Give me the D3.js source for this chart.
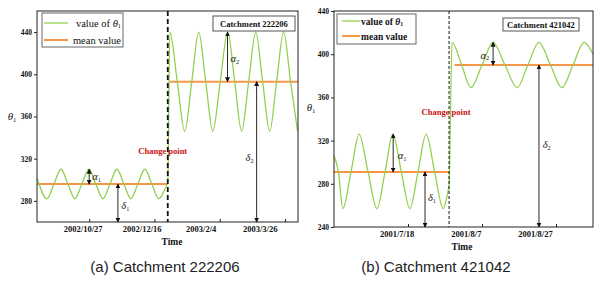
<!DOCTYPE html>
<html>
<head>
<meta charset="utf-8">
<script src="https://cdn.jsdelivr.net/npm/d3@7"></script>
<style>
body { margin: 0; background: #fff; }
svg { display: block; }
</style>
</head>
<body>
<script>
var W = 600, H = 283;

// (a) Catchment 222206  -- x values are days after aStart
var aStart = "2002-09-17", aEnd = "2003-04-05";
var aDays = [0, 7.7, 13, 18.4, 23.7, 29.1, 34.4, 39.8, 45.1, 50.5, 55.9, 61.2, 66.6, 71.9, 77.3, 82.6, 88, 93.3, 97.9, 100.2,
             101.8, 107.5, 113.2, 118.6, 123.9, 129.3, 134.7, 140.4, 146.1, 151.5, 156.8, 162.2, 167.6, 172.9, 178.3, 183.6, 189, 194.3, 199.7];
var aVals = [302, 282, 296, 310, 296, 282, 296, 310, 296, 282, 296, 310, 296, 282, 296, 310, 296, 282, 291, 298,
             440, 393, 346, 393, 440, 393, 346, 393, 440, 393, 346, 393, 440, 393, 346, 393, 440, 393, 346];
var aMeanFrom = [0, 101.8], aMeanTo = [100.2, 200], aMeanVal = [296, 393];
var aChange = 100.2;
var aTicks = ["2002-10-27", "2002-12-16", "2003-02-04", "2003-03-26"];
var aTickLabels = ["2002/10/27", "2002/12/16", "2003/2/4", "2003/3/26"];
var aYDomain = [260, 460], aYTicks = [280, 320, 360, 400, 440];
// arrows: day, from, to ; labels: day, value
var aArrowDay = [40, 62, 146, 168.3], aArrowFrom = [310, 296, 440, 393], aArrowTo = [296, 260, 393, 260];
var aLabelDay = [42.3, 64.6, 148.2, 159.8], aLabelVal = [300, 272, 412, 318];
var aLabelSym = ["α", "δ", "α", "δ"], aLabelSub = ["1", "1", "2", "2"];

// (b) Catchment 421042
var bStart = "2001-06-28", bEnd = "2001-09-06";
var bDays = [0, 1.2, 2.4, 4.6, 6.8, 9.2, 11.6, 13.8, 15.9, 18.2, 20.5, 22.7, 24.9, 27.2, 29.5, 30.5, 31.1,
             31.9, 34.5, 37.0, 40.0, 43.0, 46.2, 49.5, 52.4, 55.4, 58.5, 61.6, 64.6, 67.6, 70];
var bVals = [306, 291, 257, 291, 326, 291, 257, 291, 326, 291, 257, 291, 326, 291, 257, 268, 280,
             411, 390, 369, 390, 411, 390, 369, 390, 411, 390, 369, 390, 411, 400];
var bMeanFrom = [0, 32.6], bMeanTo = [31.1, 70], bMeanVal = [291, 390];
var bChange = 31.1;
var bTicks = ["2001-07-18", "2001-08-07", "2001-08-27"];
var bTickLabels = ["2001/7/18", "2001/8/7", "2001/8/27"];
var bYDomain = [240, 440], bYTicks = [240, 280, 320, 360, 400, 440];
var bArrowDay = [16, 24.6, 43, 55.4], bArrowFrom = [326, 291, 411, 390], bArrowTo = [291, 240, 390, 240];
var bLabelDay = [17.2, 25.4, 39.6, 56.4], bLabelVal = [303, 264, 396, 313];
var bLabelSym = ["α", "δ", "α", "δ"], bLabelSub = ["1", "1", "2", "2"];

var GREEN = "#92d050", ORANGE = "#f79646", RED = "#cc1010";
var SERIF = "'Liberation Serif', 'Times New Roman', serif";
var SANS = "'Liberation Sans', Arial, sans-serif";

var parse = d3.timeParse("%Y-%m-%d");
function dayDate(start, d) { return new Date(parse(start).getTime() + d * 864e5); }

var svg = d3.select("body").append("svg").attr("width", W).attr("height", H);

var defs = svg.append("defs");
defs.append("marker").attr("id", "head")
    .attr("viewBox", "0 0 8 8").attr("refX", 7).attr("refY", 4)
    .attr("markerWidth", 5).attr("markerHeight", 5).attr("orient", "auto-start-reverse")
    .attr("markerUnits", "userSpaceOnUse")
  .append("path").attr("d", "M0,0L8,4L0,8z").attr("fill", "#111");

function subText(sel, main, sub, italicMain) {
  sel.append("tspan").text(main).attr("font-style", italicMain ? "italic" : null);
  sel.append("tspan").text(sub).attr("font-size", "0.6em").attr("dy", "0.3em");
}

function drawPanel(p) {
  var g = svg.append("g");
  var x = d3.scaleTime().domain([parse(p.start), parse(p.end)]).range([p.left, p.right]);
  var xl = d3.scaleTime().domain([parse(p.start), parse(p.end)]).range(p.labelRange);
  var y = d3.scaleLinear().domain(p.yDomain).range([p.bottom, p.top]);

  // y axis
  var ya = g.append("g").attr("transform", "translate(" + p.left + ",0)")
    .call(d3.axisLeft(y).tickValues(p.yTicks).tickSize(3).tickPadding(2));
  ya.select(".domain").remove();
  ya.selectAll("line").attr("stroke", "#222");
  ya.selectAll("text").attr("font-family", SERIF).attr("font-weight", "bold")
    .attr("font-size", p.yFont).attr("fill", "#111");

  // x axis: inward ticks, labels placed by label scale
  var tickDates = p.ticks.map(parse);
  var xa = g.append("g").attr("transform", "translate(0," + p.bottom + ")")
    .call(d3.axisBottom(x).tickValues(tickDates).tickSize(-3).tickFormat(""));
  xa.select(".domain").remove();
  xa.selectAll("line").attr("stroke", "#222");
  g.selectAll(".xlab").data(tickDates).enter().append("text")
    .attr("x", function(d) { return xl(d); })
    .attr("y", p.bottom + 10)
    .attr("text-anchor", "middle")
    .attr("font-family", SERIF).attr("font-weight", "bold").attr("font-size", 8.5).attr("fill", "#111")
    .text(function(d, i) { return p.tickLabels[i]; });

  // mean lines
  var means = p.meanVal.map(function(v, i) { return {a: p.meanFrom[i], b: p.meanTo[i], v: v}; });
  g.selectAll(".mean").data(means).enter().append("line")
    .attr("x1", function(d) { return x(dayDate(p.start, d.a)); })
    .attr("x2", function(d) { return x(dayDate(p.start, d.b)); })
    .attr("y1", function(d) { return y(d.v); })
    .attr("y2", function(d) { return y(d.v); })
    .attr("stroke", ORANGE).attr("stroke-width", 2);

  // theta curve
  var pts = p.days.map(function(d, i) { return [dayDate(p.start, d), p.vals[i]]; });
  var line = d3.line().x(function(d) { return x(d[0]); }).y(function(d) { return y(d[1]); })
    .curve(d3.curveMonotoneX);
  g.append("path").attr("d", line(pts)).attr("fill", "none")
    .attr("stroke", GREEN).attr("stroke-width", 1.3);

  // change point
  var cx = x(dayDate(p.start, p.change));
  g.append("line").attr("x1", cx).attr("x2", cx).attr("y1", p.top).attr("y2", p.bottom)
    .attr("stroke", "#111").attr("stroke-width", p.dashW).attr("stroke-dasharray", p.dash);
  g.append("text").attr("x", cx + p.cpDx).attr("y", y(p.cpVal))
    .attr("text-anchor", "middle").attr("font-family", SERIF).attr("font-weight", "bold")
    .attr("font-size", 8.5).attr("fill", RED).text("Change point");

  // arrows
  p.arrowDay.forEach(function(d, i) {
    var ax = x(dayDate(p.start, d));
    g.append("line").attr("x1", ax).attr("x2", ax)
      .attr("y1", y(p.arrowFrom[i])).attr("y2", y(p.arrowTo[i]))
      .attr("stroke", "#111").attr("stroke-width", 0.9)
      .attr("marker-start", "url(#head)").attr("marker-end", "url(#head)");
    var t = g.append("text").attr("x", x(dayDate(p.start, p.labelDay[i]))).attr("y", y(p.labelVal[i]))
      .attr("font-family", SERIF).attr("font-size", 10.5).attr("fill", "#222");
    subText(t, p.labelSym[i], p.labelSub[i], true);
  });

  // frame
  g.append("rect").attr("x", p.left).attr("y", p.top)
    .attr("width", p.right - p.left).attr("height", p.bottom - p.top)
    .attr("fill", "none").attr("stroke", "#222").attr("stroke-width", 1);

  // legend
  var L = p.legend;
  g.append("rect").attr("x", L.x).attr("y", L.y).attr("width", L.w).attr("height", L.h)
    .attr("fill", "#fff").attr("stroke", "#666").attr("stroke-width", 1);
  [[GREEN, 1.3], [ORANGE, 2]].forEach(function(s, i) {
    var ly = L.y + L.rows[i];
    g.append("line").attr("x1", L.x + L.lx0).attr("x2", L.x + L.lx1).attr("y1", ly).attr("y2", ly)
      .attr("stroke", s[0]).attr("stroke-width", s[1]);
    var t = g.append("text").attr("x", L.x + L.tx).attr("y", ly + 3.5)
      .attr("text-anchor", L.anchor).attr("font-family", SERIF).attr("font-size", L.font)
      .attr("font-weight", L.bold ? "bold" : null).attr("fill", "#111");
    if (i === 0) {
      t.append("tspan").text("value of ");
      subText(t, "θ", "1", true);
    } else {
      t.text("mean value");
    }
  });

  // catchment box
  var C = p.cbox;
  g.append("rect").attr("x", C.x).attr("y", C.y).attr("width", C.w).attr("height", C.h)
    .attr("fill", "#fff").attr("stroke", "#555").attr("stroke-width", 1);
  g.append("text").attr("x", C.x + C.w / 2).attr("y", C.y + C.h / 2 + 3)
    .attr("text-anchor", "middle").attr("font-family", SERIF).attr("font-weight", "bold")
    .attr("font-size", 8.5).attr("fill", "#111").text(p.name);

  // axis titles
  var yt = g.append("text").attr("x", p.yTitleX).attr("y", p.yTitleY)
    .attr("text-anchor", "middle").attr("font-family", SERIF).attr("font-size", 11).attr("fill", "#222");
  subText(yt, "θ", "1", true);
  g.append("text").attr("x", (p.left + p.right) / 2 + p.timeDx).attr("y", p.bottom + 23)
    .attr("text-anchor", "middle").attr("font-family", SERIF).attr("font-weight", "bold")
    .attr("font-size", 9.5).attr("fill", "#111").text("Time");

  // caption
  g.append("text").attr("x", p.capX).attr("y", 272)
    .attr("text-anchor", "middle").attr("font-family", SANS).attr("font-size", 15)
    .attr("fill", "#222").text(p.caption);
}

drawPanel({
  start: aStart, end: aEnd, days: aDays, vals: aVals,
  meanFrom: aMeanFrom, meanTo: aMeanTo, meanVal: aMeanVal, change: aChange,
  ticks: aTicks, tickLabels: aTickLabels, yDomain: aYDomain, yTicks: aYTicks,
  arrowDay: aArrowDay, arrowFrom: aArrowFrom, arrowTo: aArrowTo,
  labelDay: aLabelDay, labelVal: aLabelVal, labelSym: aLabelSym, labelSub: aLabelSub,
  left: 37, right: 298, top: 11, bottom: 222, labelRange: [36, 272], yFont: 7.5,
  dashW: 1.8, dash: "5,3", cpDx: -5, cpVal: 324,
  legend: {x: 42, y: 13, w: 81, h: 34, rows: [10, 27], lx0: 2, lx1: 26, tx: 79, anchor: "end", font: 10.5, bold: false},
  cbox: {x: 213, y: 16, w: 82, h: 15}, name: "Catchment 222206",
  yTitleX: 12, yTitleY: 120, timeDx: 4.5, capX: 165, caption: "(a) Catchment 222206"
});

drawPanel({
  start: bStart, end: bEnd, days: bDays, vals: bVals,
  meanFrom: bMeanFrom, meanTo: bMeanTo, meanVal: bMeanVal, change: bChange,
  ticks: bTicks, tickLabels: bTickLabels, yDomain: bYDomain, yTicks: bYTicks,
  arrowDay: bArrowDay, arrowFrom: bArrowFrom, arrowTo: bArrowTo,
  labelDay: bLabelDay, labelVal: bLabelVal, labelSym: bLabelSym, labelSub: bLabelSub,
  left: 334, right: 593, top: 11, bottom: 227, labelRange: [328, 570], yFont: 7.5,
  dashW: 1, dash: "3,2", cpDx: -3, cpVal: 344,
  legend: {x: 337, y: 14, w: 79, h: 30, rows: [7, 22], lx0: 5, lx1: 23, tx: 24, anchor: "start", font: 9.5, bold: true},
  cbox: {x: 503, y: 18, w: 76, h: 13}, name: "Catchment 421042",
  yTitleX: 311, yTitleY: 111, timeDx: -1.5, capX: 436, caption: "(b) Catchment 421042"
});
</script>
</body>
</html>
